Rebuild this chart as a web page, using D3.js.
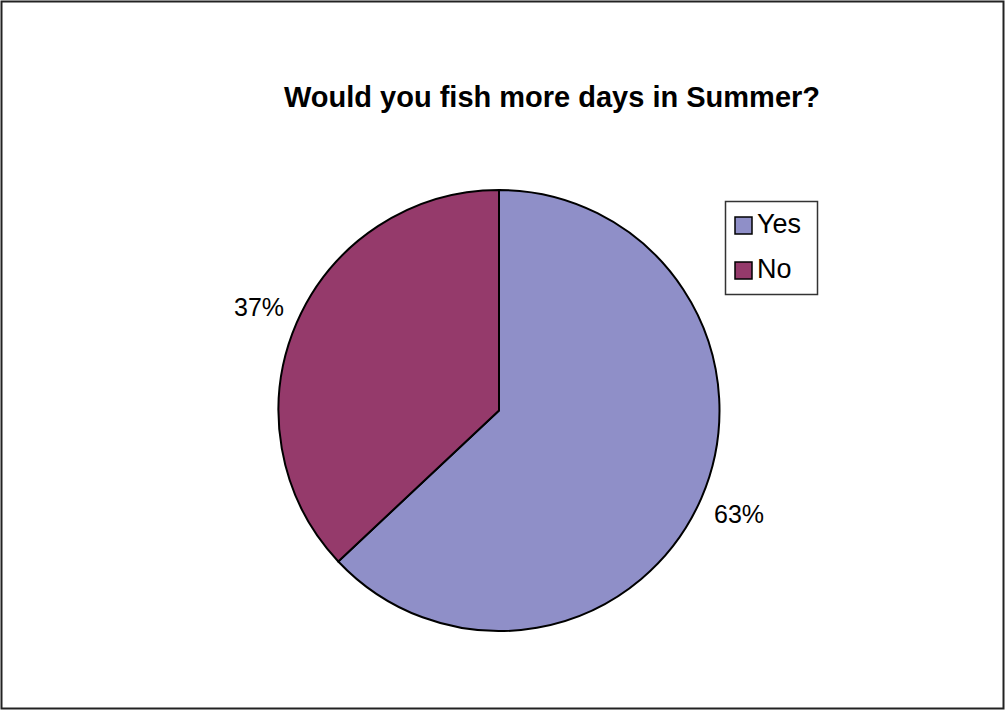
<!DOCTYPE html>
<html>
<head>
<meta charset="utf-8">
<script src="https://cdn.jsdelivr.net/npm/d3@7"></script>
<style>
  html, body { margin: 0; padding: 0; background: #fff; }
  svg { display: block; font-family: "Liberation Sans", Arial, sans-serif; }
</style>
</head>
<body>
<svg id="chart" width="1005" height="711"></svg>
<script>
// Survey answers and their shares (percent)
const categories = ["Yes", "No"];
const values = [63, 37];
const labels = ["63%", "37%"];
const colors = ["#8f8fc8", "#953a6b"];
const title = "Would you fish more days in Summer?";

const svg = d3.select("#chart");

// Outer frame
svg.append("rect")
  .attr("x", 1.5).attr("y", 1.5)
  .attr("width", 1002).attr("height", 707)
  .attr("fill", "#fff")
  .attr("stroke", "#222").attr("stroke-width", 2);

// Title
svg.append("text")
  .attr("x", 552).attr("y", 107)
  .attr("text-anchor", "middle")
  .attr("font-size", 29)
  .attr("font-weight", "bold")
  .text(title);

// Pie
const cx = 499, cy = 410.5, r = 220.5;
const pie = d3.pie().sort(null).value(d => d)(values);
const arc = d3.arc().innerRadius(0).outerRadius(r);

const g = svg.append("g").attr("transform", `translate(${cx},${cy})`);
g.selectAll("path")
  .data(pie)
  .join("path")
  .attr("d", arc)
  .attr("fill", (d, i) => colors[i])
  .attr("stroke", "#000")
  .attr("stroke-width", 2)
  .attr("stroke-linejoin", "round");

// Percentage labels placed outside the slices
const labelArc = d3.arc().innerRadius(r + 41).outerRadius(r + 41);
g.selectAll("text.pct")
  .data(pie)
  .join("text")
  .attr("class", "pct")
  .attr("transform", d => {
    const [x, y] = labelArc.centroid(d);
    return `translate(${x},${y})`;
  })
  .attr("text-anchor", "middle")
  .attr("dominant-baseline", "central")
  .attr("font-size", 25)
  .text((d, i) => labels[i]);

// Legend
const lg = svg.append("g").attr("transform", "translate(725,201)");
lg.append("rect")
  .attr("x", 0.5).attr("y", 0.5)
  .attr("width", 92).attr("height", 93)
  .attr("fill", "#fff")
  .attr("stroke", "#333").attr("stroke-width", 1.5);
const items = lg.selectAll("g.item")
  .data(categories)
  .join("g")
  .attr("class", "item")
  .attr("transform", (d, i) => `translate(10,${16 + i * 45})`);
items.append("rect")
  .attr("width", 17).attr("height", 17)
  .attr("fill", (d, i) => colors[i])
  .attr("stroke", "#000").attr("stroke-width", 1.5);
items.append("text")
  .attr("x", 22).attr("y", 16)
  .attr("font-size", 27)
  .text(d => d);
</script>
</body>
</html>
